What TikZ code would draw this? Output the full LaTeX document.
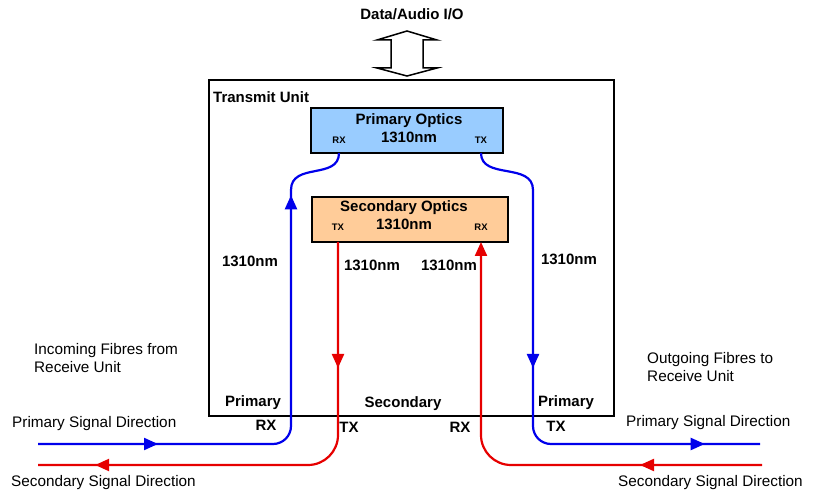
\documentclass[tikz,border=0pt]{standalone}
\usepackage{fontspec}
\setmainfont{Liberation Sans}
\usetikzlibrary{arrows.meta,decorations.markings}
\definecolor{fblue}{RGB}{0,0,235}
\definecolor{fred}{RGB}{230,0,0}
\definecolor{pfill}{RGB}{153,204,255}
\definecolor{sfill}{RGB}{255,204,153}
\tikzset{ftip/.tip={Triangle[length=14pt,width=12pt]}}
\begin{document}
\begin{tikzpicture}[x=1pt,y=-1pt,
  lbl/.style={font=\fontsize{15.3}{18}\selectfont, inner sep=0pt, align=left},
  blbl/.style={font=\fontsize{15}{18}\selectfont\bfseries, inner sep=0pt},
  slbl/.style={font=\fontsize{9.5}{11}\selectfont\bfseries, inner sep=0pt},
  optbox/.style={draw, line width=2pt, minimum height=45pt, inner sep=0pt},
  fibre/.style={line width=2.2pt, rounded corners=18pt},
  twomarks/.style 2 args={postaction={decorate}, decoration={markings,
     mark=at position #1 with {\arrow{ftip}},
     mark=at position #2 with {\arrow{ftip}}}},
  onemark/.style={postaction={decorate}, decoration={markings,
     mark=at position #1 with {\arrow{ftip}}}}
]
\useasboundingbox (0,0) rectangle (815,494);

% Transmit unit
\node[draw, line width=2pt, minimum width=405pt, minimum height=336pt, inner sep=0pt, anchor=north west] (unit) at (208,79) {};
\node[blbl, anchor=west] (unitlbl) at (213,97) {Transmit Unit};

% Data / Audio I/O
\node[blbl] (io) at (412,14) {Data/Audio I/O};
\draw[line width=1.5pt, fill=white, line join=miter]
  (407,31) -- (437,40) -- (423,40) -- (423,68) -- (437,68) -- (407,76)
  -- (377,68) -- (391,68) -- (391,40) -- (377,40) -- cycle;

% Optics boxes
\node[optbox, fill=pfill, minimum width=192pt] (pri) at (407,130.5) {};
\node[blbl, align=center] (pritxt) at (409,128) {Primary Optics\\1310nm};
\node[slbl] (prirx) at (339,140) {RX};
\node[slbl] (pritx) at (481,140) {TX};

\node[optbox, fill=sfill, minimum width=196pt] (sec) at (410,219.5) {};
\node[blbl, align=center] (sectxt) at (404,215) {Secondary Optics\\1310nm};
\node[slbl] (sectx) at (338,227) {TX};
\node[slbl] (secrx) at (481,227) {RX};

% fibre end points
\coordinate (prx) at (339,153);
\coordinate (ptx) at (481,153);
\coordinate (stx) at (338,242);
\coordinate (srx) at (481,242);
\coordinate (inP) at (38,444);
\coordinate (outP) at (760,444);
\coordinate (outS) at (38,465);
\coordinate (inS) at (762,465);
\coordinate (lb) at (291,190);
\coordinate (rb) at (533,190);

% Primary fibres (blue)
\draw[fibre, fblue, twomarks={120pt}{494pt}] (inP) -- (291,444) -- (lb);
\draw[line width=2.2pt, fblue] (lb) .. controls (291,162) and (339,180) .. (prx);
\draw[line width=2.2pt, fblue] (ptx) .. controls (481,180) and (533,162) .. (rb);
\draw[fibre, fblue, twomarks={178pt}{418pt}] (rb) -- (533,444) -- (outP);

% Secondary fibres (red)
\draw[fibre, rounded corners=30pt, fred, twomarks={126pt}{453pt}] (stx) -- (338,465) -- (outS);
\draw[fibre, rounded corners=30pt, fred, -{ftip}, onemark={122pt}] (inS) -- (481,465) -- (srx);

% wavelength labels
\node[blbl] (w1) at (250,261) {1310nm};
\node[blbl] (w2) at (372,265) {1310nm};
\node[blbl] (w3) at (449,265) {1310nm};
\node[blbl] (w4) at (569,259) {1310nm};

% port labels
\node[blbl] (lp) at (253,403) {Primary};
\node[blbl] (lrx) at (266,425) {RX};
\node[blbl] (sc) at (403,404) {Secondary};
\node[blbl] (stxl) at (349,427) {TX};
\node[blbl] (srxl) at (460,427) {RX};
\node[blbl] (rp) at (566,403) {Primary};
\node[blbl] (rtx) at (556,426) {TX};

% side labels
\node[lbl, anchor=west] (incoming) at (34,358) {Incoming Fibres from\\Receive Unit};
\node[lbl, anchor=west] (outgoing) at (647,367) {Outgoing Fibres to\\Receive Unit};
\node[lbl, anchor=west] (psdL) at (12,424) {Primary Signal Direction};
\node[lbl, anchor=west] (ssdL) at (11,483) {Secondary Signal Direction};
\node[lbl, anchor=west] (psdR) at (626,423) {Primary Signal Direction};
\node[lbl, anchor=west] (ssdR) at (618,483) {Secondary Signal Direction};
\end{tikzpicture}
\end{document}
